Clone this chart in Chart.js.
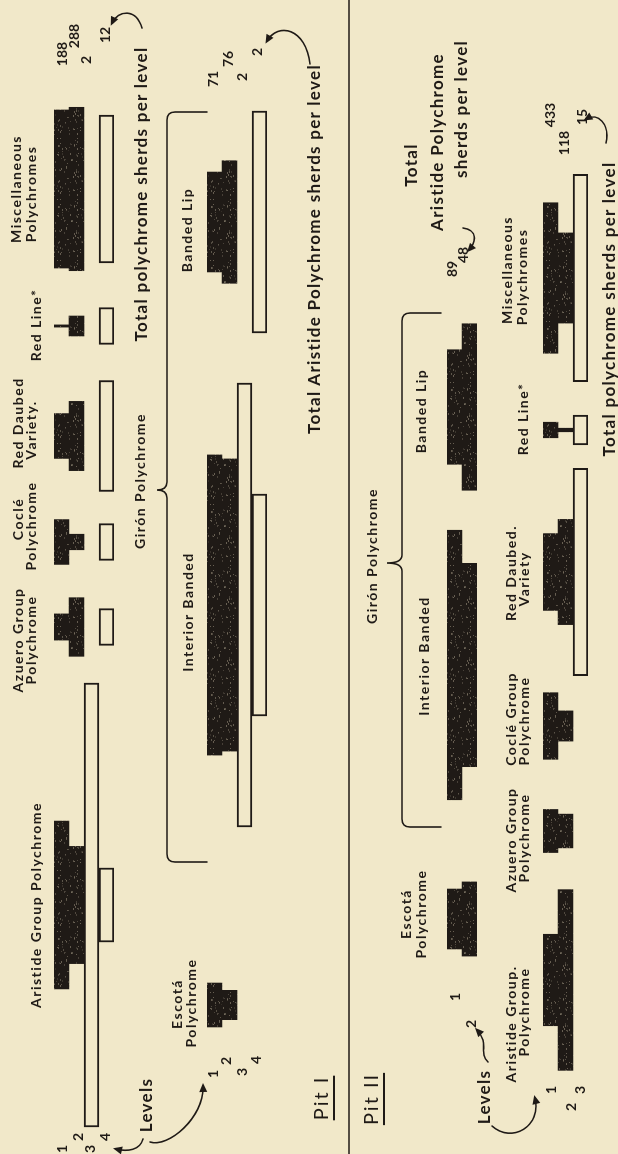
<!DOCTYPE html>
<html>
<head>
<meta charset="utf-8">
<script src="https://cdn.jsdelivr.net/npm/chart.js@4.4.1/dist/chart.umd.min.js"></script>
<style>
html, body { margin: 0; padding: 0; background: #f1e8c9; width: 618px; height: 1154px; overflow: hidden; }
#page { position: absolute; left: 0; top: 0; width: 1154px; height: 618px;
        transform-origin: 0 0; transform: translate(0px, 1154px) rotate(-90deg);
        font-family: Lato, "DejaVu Sans", sans-serif; color: #1f1a16; }
#page canvas { position: absolute; left: 0; }
.t { position: absolute; white-space: nowrap; transform: translate(-50%, -50%); line-height: 1; }
.lab { font-size: 14px; font-weight: 700; letter-spacing: 1.5px; }
.tot { font-size: 17px; font-weight: 700; letter-spacing: 1.3px; }
.num { font-size: 14px; font-weight: 700; }
.pit { font-size: 20px; letter-spacing: 2px; text-decoration: underline; text-underline-offset: 5px; text-decoration-thickness: 1.5px; }
</style>
</head>
<body>
<div id="page"><canvas id="deco" width="1154" height="618"></canvas></div>
<script>
// ---- data: percent of sherds per level ----
const pit1Levels = ['1', '2', '3', '4'];
const pit1Counts = ['188', '288', '2', '12'];          // total polychrome sherds per level
const pit1AristideCounts = ['71', '76', '2', '2'];     // total Aristide polychrome per level

const p1Aristide = [37.8, 26.4, 100, 16.7];
const p1Azuero = [5.9, 13.2, 0, 8.3];
const p1Cocle = [10.1, 3.5, 0, 8.3];
const p1RedDaubed = [10.1, 15.6, 0, 25];
const p1RedLine = [0.5, 4.5, 0, 8.3];
const p1Misc = [35.6, 36.8, 0, 33.3];

const p1Escota = [9.9, 6.6, 0, 0];
const p1InteriorBanded = [67.6, 65.8, 100, 50];
const p1BandedLip = [22.5, 27.6, 0, 50];

const pit2Levels = ['1', '2', '3'];
const pit2Counts = ['433', '118', '15'];
const pit2AristideCounts = ['89', '48'];

const p2Aristide = [20.6, 40.7, 0];
const p2Azuero = [9.7, 7.6, 0];
const p2Cocle = [15.0, 6.8, 0];
const p2RedDaubed = [17.3, 23.7, 46.7];
const p2RedLine = [3.5, 0.8, 6.7];
const p2Misc = [33.9, 20.3, 46.7];

const p2Escota = [13.5, 16.7];
const p2InteriorBanded = [60.7, 45.8];
const p2BandedLip = [25.8, 37.5];

// ---- layout / style ----
const W = 1154, H = 618, LEVEL_H = 15;
const PX_PER_PCT = 4.44;
const INK = '#1f1a16';
const PAPER = '#f1e8c9';
const page = document.getElementById('page');

function makeInk() {
    const c = document.createElement('canvas');
    c.width = 61; c.height = 47;
    const g = c.getContext('2d');
    g.fillStyle = INK;
    g.fillRect(0, 0, 61, 47);
    let s = 11;
    const rnd = () => (s = (s * 16807) % 2147483647) / 2147483647;
    for (let i = 0; i < 140; i++) {
        g.fillStyle = 'rgba(160,150,130,' + (0.15 + rnd() * 0.45).toFixed(2) + ')';
        g.fillRect(Math.floor(rnd() * 61), Math.floor(rnd() * 47), 1 + Math.floor(rnd() * 2), 1);
    }
    return g.createPattern(c, 'repeat');
}
const inkFill = makeInk();

function drawRow(top, levels, names, series, centers, hollow) {
    const cv = document.createElement('canvas');
    cv.width = W;
    cv.height = levels.length * LEVEL_H;
    cv.style.top = top + 'px';
    page.appendChild(cv);
    new Chart(cv, {
        type: 'bar',
        data: {
            labels: levels,
            datasets: series.map((vals, i) => {
                const c = centers[i] / PX_PER_PCT;
                return {
                    label: names[i],
                    data: vals.map(v => v > 0 ? [c - v / 2, c + v / 2] : null),
                    backgroundColor: levels.map((l, k) => hollow[k] ? PAPER : inkFill),
                    borderColor: INK,
                    borderWidth: levels.map((l, k) => hollow[k] ? 2 : 0),
                    borderSkipped: false,
                    barPercentage: 1,
                    categoryPercentage: 1,
                    grouped: false
                };
            })
        },
        options: {
            indexAxis: 'y',
            responsive: false,
            animation: false,
            events: [],
            layout: { padding: 0 },
            plugins: { legend: { display: false }, tooltip: { enabled: false } },
            scales: {
                x: { type: 'linear', min: 0, max: W / PX_PER_PCT, display: false },
                y: { type: 'category', display: false }
            }
        }
    });
}

// Pit I
drawRow(54, pit1Levels,
    ['Aristide Group Polychrome', 'Azuero Group Polychrome', 'Coclé Polychrome', 'Red Daubed Variety', 'Red Line', 'Miscellaneous Polychromes'],
    [p1Aristide, p1Azuero, p1Cocle, p1RedDaubed, p1RedLine, p1Misc],
    [249, 527, 612, 718, 828, 965], [false, false, true, true]);
drawRow(207, pit1Levels,
    ['Escotá Polychrome', 'Interior Banded', 'Banded Lip'],
    [p1Escota, p1InteriorBanded, p1BandedLip],
    [149, 549, 932], [false, false, true, true]);
// Pit II
drawRow(447, ['1', '2'],
    ['Escotá Polychrome', 'Interior Banded', 'Banded Lip'],
    [p2Escota, p2InteriorBanded, p2BandedLip],
    [235, 489, 747], [false, false]);
drawRow(543, pit2Levels,
    ['Aristide Group Polychrome', 'Azuero Group Polychrome', 'Coclé Group Polychrome', 'Red Daubed Variety', 'Red Line', 'Miscellaneous Polychromes'],
    [p2Aristide, p2Azuero, p2Cocle, p2RedDaubed, p2RedLine, p2Misc],
    [174, 323, 428, 582, 724, 876], [false, false, true]);

// ---- braces, separator and arrows ----
const g = document.getElementById('deco').getContext('2d');
g.strokeStyle = INK;
g.fillStyle = INK;
g.lineWidth = 1.6;
g.lineCap = 'round';

function brace(x0, x1, y, tipX, tipY, endY) {
    g.beginPath();
    g.moveTo(x0, endY);
    g.lineTo(x0, y + 8);
    g.quadraticCurveTo(x0, y, x0 + 8, y);
    g.lineTo(tipX - 8, y);
    g.quadraticCurveTo(tipX, y, tipX, tipY);
    g.quadraticCurveTo(tipX, y, tipX + 8, y);
    g.lineTo(x1 - 8, y);
    g.quadraticCurveTo(x1, y, x1, y + 8);
    g.lineTo(x1, endY);
    g.stroke();
}
function arrow(x0, y0, c1x, c1y, c2x, c2y, x1, y1) {
    g.beginPath();
    g.moveTo(x0, y0);
    g.bezierCurveTo(c1x, c1y, c2x, c2y, x1, y1);
    g.stroke();
    const a = Math.atan2(y1 - c2y, x1 - c2x);
    g.beginPath();
    g.moveTo(x1 + 3 * Math.cos(a), y1 + 3 * Math.sin(a));
    g.lineTo(x1 - 6 * Math.cos(a) + 4 * Math.sin(a), y1 - 6 * Math.sin(a) - 4 * Math.cos(a));
    g.lineTo(x1 - 6 * Math.cos(a) - 4 * Math.sin(a), y1 - 6 * Math.sin(a) + 4 * Math.cos(a));
    g.closePath();
    g.fill();
}

brace(292, 1042, 167, 664, 157, 207);
brace(327, 841, 402, 591, 387, 441);

g.beginPath();
g.moveTo(0, 349);
g.lineTo(W, 349);
g.stroke();

arrow(15, 143, 4, 140, 2, 128, 5, 116);
arrow(12, 150, 6, 168, 36, 204, 68, 203);
arrow(1126, 142, 1146, 136, 1144, 118, 1131, 112);
arrow(1090, 310, 1126, 306, 1132, 278, 1113, 267);
arrow(92, 488, 102, 478, 110, 490, 124, 477);
arrow(28, 492, 10, 512, 28, 542, 56, 535);
arrow(1011, 606, 1030, 610, 1042, 598, 1035, 586);
arrow(926, 463, 924, 478, 912, 476, 904, 469);

// ---- text ----
const texts = [
    ['Aristide Group  Polychrome', 249, 36, 'lab'],
    ['Azuero Group', 514, 18, 'lab'], ['Polychrome', 514, 31, 'lab'],
    ['Coclé', 635, 18, 'lab'], ['Polychrome', 628, 31, 'lab'],
    ['Red Daubed', 731, 18, 'lab'], ['Variety.', 724, 31, 'lab'],
    ['Red Line*', 829, 36, 'lab'],
    ['Miscellaneous', 965, 16, 'lab'], ['Polychromes', 960, 31, 'lab'],
    ['Total polychrome sherds per level', 960, 140, 'tot'],
    ['Girón Polychrome', 673, 140, 'lab'],
    ['Escotá', 150, 177, 'lab'], ['Polychrome', 151, 191, 'lab'],
    ['Interior Banded', 542, 188, 'lab'],
    ['Banded Lip', 924, 187, 'lab'],
    ['Total Aristide Polychrome sherds per level', 905, 313, 'tot'],
    ['Levels', 49, 145, 'tot'],
    ['1', 5, 62, 'num'], ['2', 17, 78, 'num'], ['3', 5, 90, 'num'], ['4', 17, 105, 'num'],
    ['1', 80, 213, 'num'], ['2', 93, 226, 'num'], ['3', 82, 242, 'num'], ['4', 94, 256, 'num'],
    ['Pit I', 56, 320, 'pit'],
    ['Pit II', 55, 370, 'pit'],
    ['Girón Polychrome', 598, 372, 'lab'],
    ['Escotá', 240, 406, 'lab'], ['Polychrome', 240, 421, 'lab'],
    ['Interior Banded', 498, 424, 'lab'],
    ['Banded Lip', 743, 421, 'lab'],
    ['Total', 989, 410, 'tot'],
    ['Aristide Polychrome', 1012, 436, 'tot'],
    ['sherds per level', 1045, 460, 'tot'],
    ['Levels', 57, 483, 'tot'],
    ['1', 157, 455, 'num'], ['2', 130, 471, 'num'],
    ['1', 64, 551, 'num'], ['2', 47, 571, 'num'], ['3', 64, 580, 'num'],
    ['Aristide Group.', 130, 511, 'lab'], ['Polychrome', 142, 524, 'lab'],
    ['Azuero Group', 314, 511, 'lab'], ['Polychrome', 316, 524, 'lab'],
    ['Coclé Group', 435, 511, 'lab'], ['Polychrome', 433, 524, 'lab'],
    ['Red Daubed.', 581, 511, 'lab'], ['Variety', 575, 524, 'lab'],
    ['Red Line*', 735, 523, 'lab'],
    ['Miscellaneous', 884, 507, 'lab'], ['Polychromes', 877, 522, 'lab'],
    ['Total polychrome sherds per level', 845, 608, 'tot']
];
// count labels, staggered by level
const countPos1 = [[1100, 62], [1118, 74], [1094, 86], [1119, 105]];
pit1Counts.forEach((n, i) => texts.push([n, countPos1[i][0], countPos1[i][1], 'num']));
const countPos1b = [[1075, 213], [1095, 228], [1077, 242], [1102, 257]];
pit1AristideCounts.forEach((n, i) => texts.push([n, countPos1b[i][0], countPos1b[i][1], 'num']));
const countPos2 = [[1039, 550], [1011, 564], [1037, 582]];
pit2Counts.forEach((n, i) => texts.push([n, countPos2[i][0], countPos2[i][1], 'num']));
const countPos2b = [[885, 452], [899, 463]];
pit2AristideCounts.forEach((n, i) => texts.push([n, countPos2b[i][0], countPos2b[i][1], 'num']));

texts.forEach(t => {
    const d = document.createElement('div');
    d.className = 't ' + t[3];
    d.textContent = t[0];
    d.style.left = t[1] + 'px';
    d.style.top = t[2] + 'px';
    page.appendChild(d);
});
</script>
</body>
</html>
